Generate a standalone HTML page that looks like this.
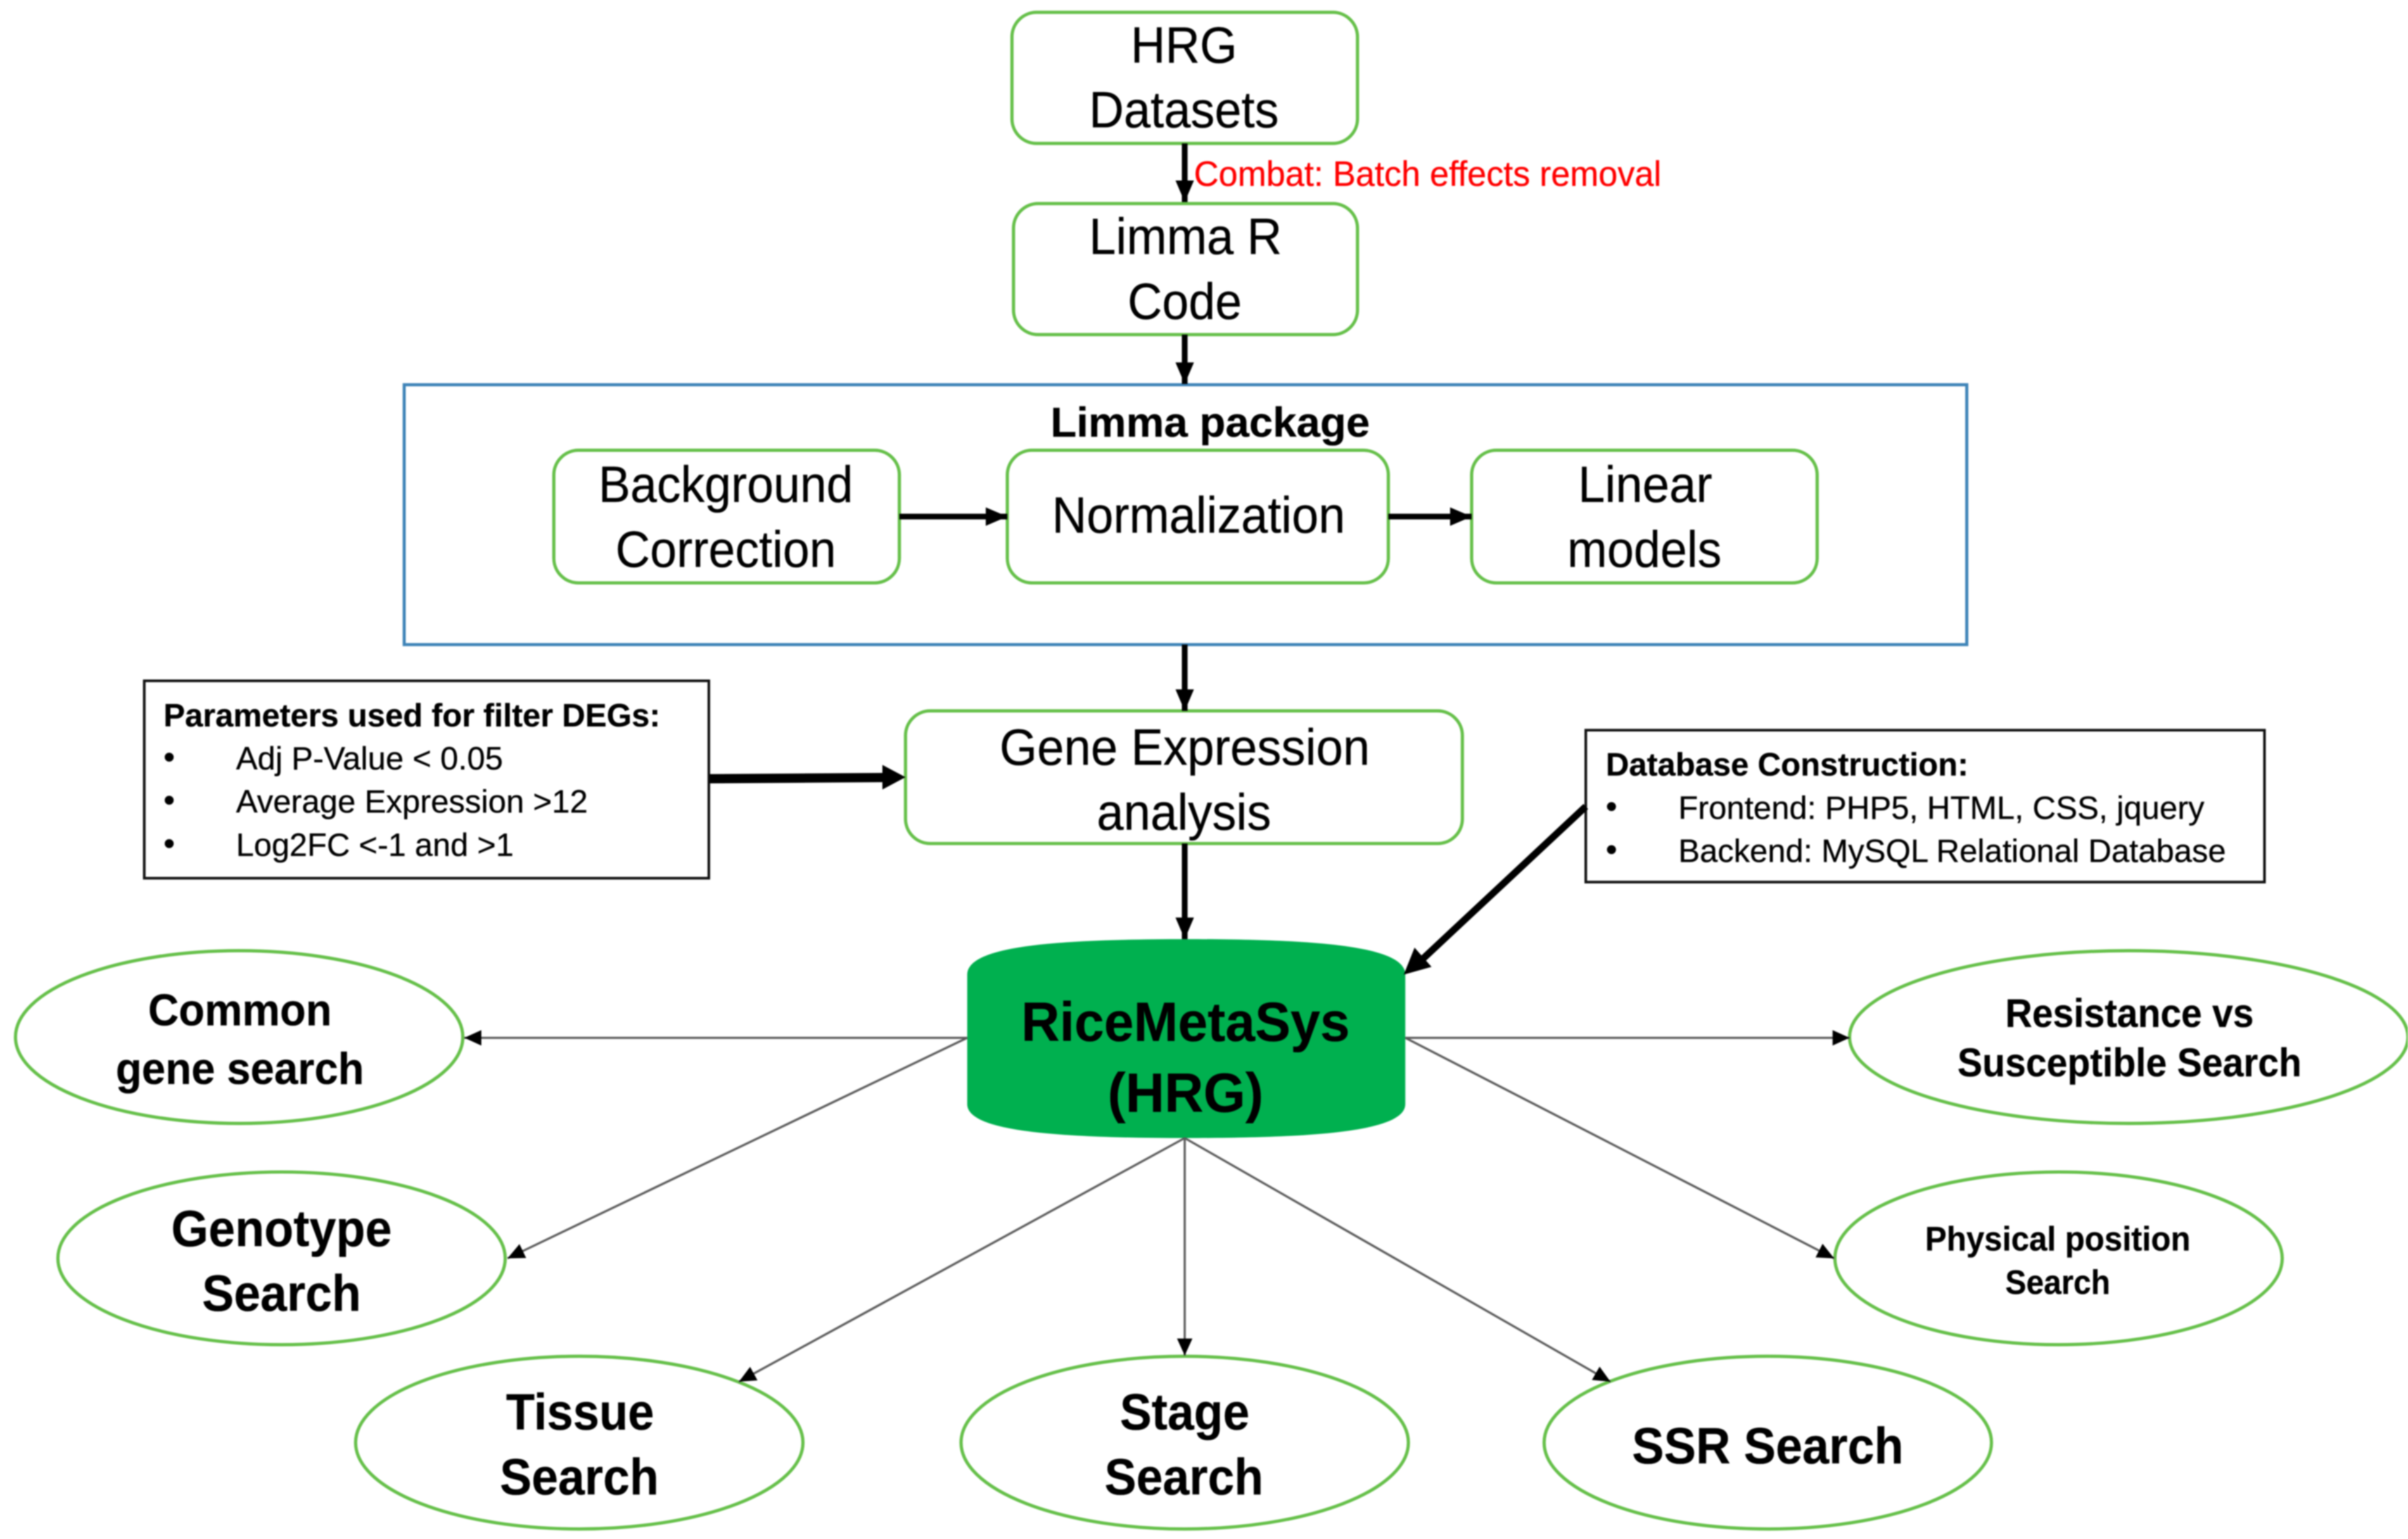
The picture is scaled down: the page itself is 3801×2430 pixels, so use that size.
<!DOCTYPE html>
<html lang="en">
<head>
<meta charset="utf-8">
<title>RiceMetaSys HRG workflow</title>
<style>
html,body{margin:0;padding:0;background:#fff;width:3801px;height:2430px;overflow:hidden}
svg{display:block;filter:blur(1px)}
text{font-family:"Liberation Sans",Arial,sans-serif;fill:#000;stroke:#000;stroke-width:.15;text-anchor:start}
.r{font-size:33px}
.b{font-weight:bold}
.s{font-size:21px}
.g{fill:#fff;stroke:#66c04a;stroke-width:2.1}
.k{fill:#fff;stroke:#111;stroke-width:1.7}
.a{stroke:#000;stroke-width:3.7;fill:none}
.t{stroke:#5c5c5c;stroke-width:1.4;fill:none}
</style>
</head>
<body>
<svg width="3801" height="2430" viewBox="0 0 1561 998" xmlns="http://www.w3.org/2000/svg">
<defs>
<marker id="h" markerUnits="userSpaceOnUse" markerWidth="16" markerHeight="14" refX="14" refY="6" orient="auto"><path d="M0 0L14 6L0 12Z" fill="#000"/></marker>
<marker id="h2" markerUnits="userSpaceOnUse" markerWidth="18" markerHeight="18" refX="16" refY="8" orient="auto"><path d="M0 0L16 8L0 16Z" fill="#000"/></marker>
<marker id="m" markerUnits="userSpaceOnUse" markerWidth="12" markerHeight="12" refX="11" refY="5" orient="auto"><path d="M0 0L11 5L0 10Z" fill="#000"/></marker>
</defs>
<rect width="1561" height="998" fill="#fff"/>

<rect x="262" y="249.500" width="1013" height="168.500" fill="#fff" stroke="#3f84b8" stroke-width="2"/>

<rect class="g" x="656" y="8" width="224" height="85" rx="16"/>
<rect class="g" x="657" y="132" width="223" height="85" rx="16"/>
<rect class="g" x="359" y="292" width="224" height="86" rx="16"/>
<rect class="g" x="653" y="292" width="247" height="86" rx="16"/>
<rect class="g" x="954" y="292" width="224" height="86" rx="16"/>
<rect class="g" x="587" y="461" width="361" height="86" rx="16"/>

<rect class="k" x="93.500" y="441.500" width="366" height="128"/>
<rect class="k" x="1028" y="473.500" width="440" height="98.500"/>

<ellipse class="g" cx="155" cy="672.500" rx="145" ry="56"/>
<ellipse class="g" cx="182.500" cy="816" rx="145" ry="56"/>
<ellipse class="g" cx="375.500" cy="935.500" rx="145" ry="56"/>
<ellipse class="g" cx="768" cy="935.500" rx="145" ry="56"/>
<ellipse class="g" cx="1146" cy="935.500" rx="145" ry="56"/>
<ellipse class="g" cx="1334.500" cy="816" rx="145" ry="56"/>
<ellipse class="g" cx="1380" cy="672.500" rx="181" ry="56"/>

<path d="M627 632C627 614 680 609 769 609C858 609 911 614 911 632L911 716C911 733 858 738 769 738C680 738 627 733 627 716Z" fill="#00b04f"/>

<path class="a" d="M768 93L768 131" marker-end="url(#h)"/>
<path class="a" d="M768 217L768 249" marker-end="url(#h)"/>
<path class="a" d="M583 335L653 335" marker-end="url(#h)"/>
<path class="a" d="M900 335L954 335" marker-end="url(#h)"/>
<path class="a" d="M768 418L768 461" marker-end="url(#h)"/>
<path class="a" d="M768 547L768 609" marker-end="url(#h)"/>
<path class="a" style="stroke-width:6" d="M460 505L574 504.200"/>
<path d="M572 496L587 504L572 512Z" fill="#000"/>
<path class="a" style="stroke-width:4.500" d="M1028 523L920 624"/>
<path d="M910 632L917 614.500L928 627Z" fill="#000"/>

<path class="t" d="M627 673L301 673" marker-end="url(#m)"/>
<path class="t" d="M911 673L1199 673" marker-end="url(#m)"/>
<path class="t" d="M627 673L329 816" marker-end="url(#m)"/>
<path class="t" d="M911 673L1189 816" marker-end="url(#m)"/>
<path class="t" d="M768 738L479 896" marker-end="url(#m)"/>
<path class="t" d="M768 738L768 879" marker-end="url(#m)"/>
<path class="t" d="M768 738L1044 896" marker-end="url(#m)"/>

<text class="r" x="733" y="40.700" textLength="69" lengthAdjust="spacingAndGlyphs">HRG</text>
<text class="r" x="706" y="82.500" textLength="123" lengthAdjust="spacingAndGlyphs">Datasets</text>
<text x="774" y="120.500" font-size="23" style="fill:#f00;stroke:#f00" textLength="303" lengthAdjust="spacingAndGlyphs">Combat: Batch effects removal</text>
<text class="r" x="706" y="164.700" textLength="125" lengthAdjust="spacingAndGlyphs">Limma R</text>
<text class="r" x="731" y="206.700" textLength="74" lengthAdjust="spacingAndGlyphs">Code</text>
<text class="b" x="681" y="283.200" font-size="27" textLength="207" lengthAdjust="spacingAndGlyphs">Limma package</text>
<text class="r" x="388" y="325.500" textLength="165" lengthAdjust="spacingAndGlyphs">Background</text>
<text class="r" x="399" y="367.500" textLength="143" lengthAdjust="spacingAndGlyphs">Correction</text>
<text class="r" x="682" y="345.500" textLength="190" lengthAdjust="spacingAndGlyphs">Normalization</text>
<text class="r" x="1023" y="325.500" textLength="87" lengthAdjust="spacingAndGlyphs">Linear</text>
<text class="r" x="1016" y="367.500" textLength="100" lengthAdjust="spacingAndGlyphs">models</text>
<text class="r" x="648" y="496" textLength="240" lengthAdjust="spacingAndGlyphs">Gene Expression</text>
<text class="r" x="711" y="538" textLength="113" lengthAdjust="spacingAndGlyphs">analysis</text>

<text class="s b" x="106" y="471" textLength="322" lengthAdjust="spacingAndGlyphs">Parameters used for filter DEGs:</text>
<text class="s" x="106" y="498">•</text>
<text class="s" x="153" y="499" textLength="173" lengthAdjust="spacingAndGlyphs">Adj P-Value &lt; 0.05</text>
<text class="s" x="106" y="526">•</text>
<text class="s" x="153" y="527" textLength="228" lengthAdjust="spacingAndGlyphs">Average Expression &gt;12</text>
<text class="s" x="106" y="554">•</text>
<text class="s" x="153" y="555" textLength="180" lengthAdjust="spacingAndGlyphs">Log2FC &lt;-1 and &gt;1</text>

<text class="s b" x="1041" y="503" textLength="235" lengthAdjust="spacingAndGlyphs">Database Construction:</text>
<text class="s" x="1041" y="530">•</text>
<text class="s" x="1088" y="531" textLength="341" lengthAdjust="spacingAndGlyphs">Frontend: PHP5, HTML, CSS, jquery</text>
<text class="s" x="1041" y="558">•</text>
<text class="s" x="1088" y="559" textLength="355" lengthAdjust="spacingAndGlyphs">Backend: MySQL Relational Database</text>

<text class="b" x="662" y="675" font-size="36" textLength="213" lengthAdjust="spacingAndGlyphs">RiceMetaSys</text>
<text class="b" x="718" y="721" font-size="36" textLength="101" lengthAdjust="spacingAndGlyphs">(HRG)</text>

<text class="b" x="96" y="665" font-size="29" textLength="119" lengthAdjust="spacingAndGlyphs">Common</text>
<text class="b" x="75" y="703" font-size="29" textLength="161" lengthAdjust="spacingAndGlyphs">gene search</text>
<text class="b r" x="111" y="808" textLength="143" lengthAdjust="spacingAndGlyphs">Genotype</text>
<text class="b r" x="131" y="850" textLength="103" lengthAdjust="spacingAndGlyphs">Search</text>
<text class="b r" x="328" y="927" textLength="96" lengthAdjust="spacingAndGlyphs">Tissue</text>
<text class="b r" x="324" y="969" textLength="103" lengthAdjust="spacingAndGlyphs">Search</text>
<text class="b r" x="726" y="927" textLength="84" lengthAdjust="spacingAndGlyphs">Stage</text>
<text class="b r" x="716" y="969" textLength="103" lengthAdjust="spacingAndGlyphs">Search</text>
<text class="b r" x="1058" y="949" textLength="176" lengthAdjust="spacingAndGlyphs">SSR Search</text>
<text class="b" x="1248" y="811" font-size="22" textLength="172" lengthAdjust="spacingAndGlyphs">Physical position</text>
<text class="b" x="1300" y="839" font-size="22" textLength="68" lengthAdjust="spacingAndGlyphs">Search</text>
<text class="b" x="1300" y="666" font-size="26" textLength="161" lengthAdjust="spacingAndGlyphs">Resistance vs</text>
<text class="b" x="1269" y="698" font-size="26" textLength="223" lengthAdjust="spacingAndGlyphs">Susceptible Search</text>
</svg>
</body>
</html>
